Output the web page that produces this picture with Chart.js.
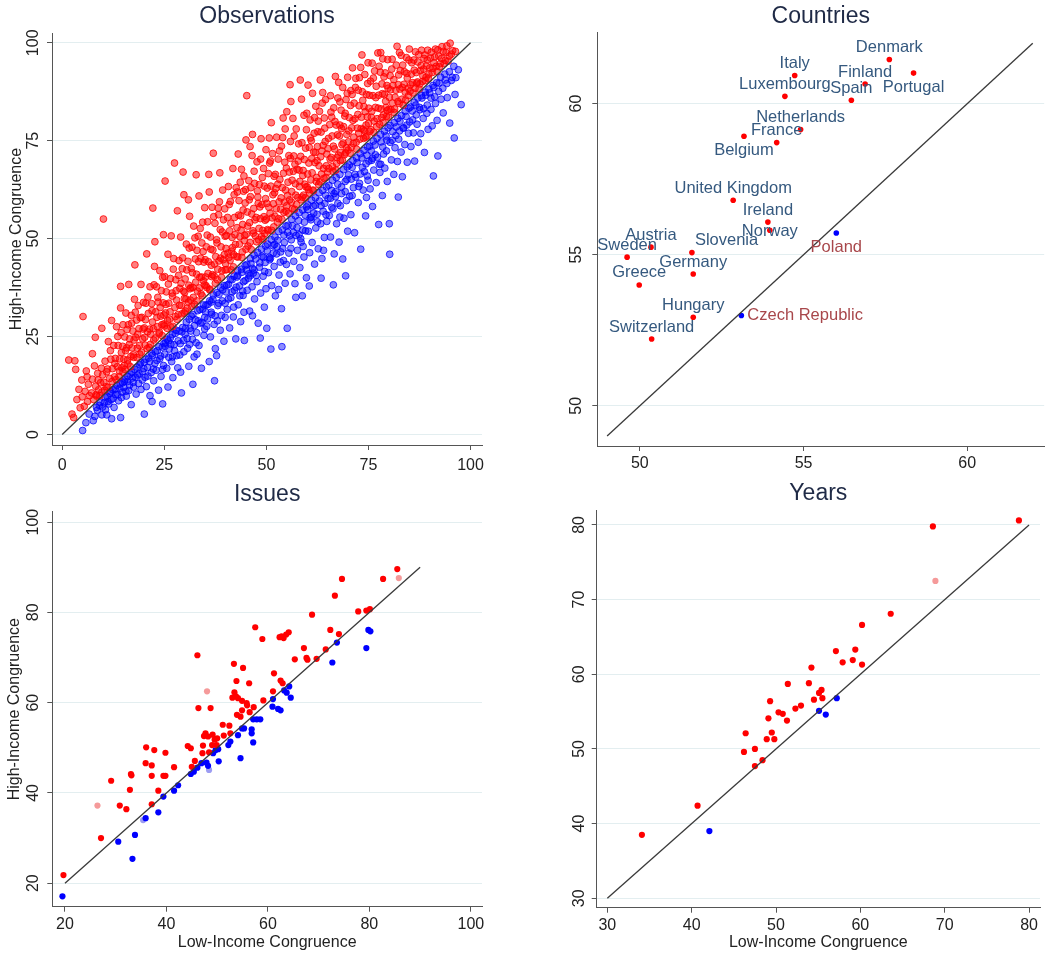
<!DOCTYPE html>
<html>
<head>
<meta charset="utf-8">
<script src="https://cdn.jsdelivr.net/npm/chart.js@4.4.0/dist/chart.umd.min.js"></script>
<style>
  html, body { margin: 0; padding: 0; background: #fff; }
  #wrap { position: relative; width: 1047px; height: 956px; overflow: hidden; }
  canvas { position: absolute; }
</style>
</head>
<body>
<div id="wrap">
  <canvas id="obs" width="520" height="470" style="left:0;top:0"></canvas>
  <canvas id="countries" width="507" height="470" style="left:540px;top:0"></canvas>
  <canvas id="issues" width="520" height="486" style="left:0;top:470px"></canvas>
  <canvas id="years" width="507" height="486" style="left:540px;top:470px"></canvas>
</div>
<script>
/* Congruence panels */

// Observations: [low-income, high-income]
const obsAbove = [
  [2.4,5.2],[2.8,4.3],[3.1,18.8],[1.6,19.0],[3.3,16.6],[3.6,8.9],[4.1,11.5],[4.4,6.8],[4.8,13.9],[5.1,30.1],[4.9,9.6],
  [5.4,7.2],[5.6,11.0],[5.9,16.2],[6.2,8.4],[6.4,12.8],[6.7,9.9],[7.4,20.6],[7.2,10.6],[7.4,14.1],[7.7,8.9],[7.9,17.5],
  [8.2,12.3],[8.4,9.8],[8.7,15.6],[8.9,11.4],[9.7,27.1],[9.4,13.2],[9.7,10.8],[10.1,55.0],[9.6,16.9],[8.1,24.8],[6.1,14.7],
  [10.2,13.3],[10.5,18.7],[10.8,12.2],[11.1,16.7],[11.3,23.7],[11.6,14.3],[11.9,19.2],[12.1,29.1],[12.3,16.8],[12.6,22.7],[12.8,14.7],
  [13.0,19.4],[13.3,27.5],[13.5,17.3],[13.7,22.7],[13.9,14.7],[14.1,19.3],[14.3,32.3],[14.4,26.0],[14.6,17.0],[14.8,22.5],[14.9,28.0],[14.3,37.8],
  [15.1,19.2],[15.3,24.9],[15.4,16.6],[15.6,31.0],[15.8,22.1],[16.0,19.0],[16.2,28.0],[16.3,38.3],[16.5,24.4],[16.7,17.3],[16.9,30.4],
  [17.1,22.1],[17.3,26.4],[17.5,19.7],[17.8,43.3],[17.7,34.5],[18.0,24.8],[18.2,29.2],[18.4,22.0],[18.6,32.9],[18.8,27.0],[19.0,20.5],
  [19.3,38.3],[19.5,29.9],[19.7,24.4],
  [20.1,27.2],[20.3,22.8],[20.5,33.5],[20.7,46.1],[20.9,26.2],[21.1,30.9],[21.3,22.2],[21.5,37.7],[21.7,25.6],[21.9,33.4],[22.1,28.7],
  [22.2,57.8],[22.4,24.1],[22.6,42.9],[22.7,49.2],[22.9,31.3],[23.1,37.7],[23.3,27.5],[23.5,33.8],[23.7,25.7],[23.9,41.8],[24.1,30.2],
  [24.3,36.7],[24.5,25.2],[24.8,51.0],[24.7,33.6],[24.9,28.2],
  [25.1,40.3],[25.2,64.7],[25.3,31.0],[25.5,36.4],[25.7,27.1],[25.9,46.0],[26.1,33.5],[26.3,29.4],[26.5,39.8],[26.7,50.7],[26.9,36.1],
  [27.1,27.6],[27.3,44.9],[27.5,69.3],[27.6,32.4],[27.8,39.5],[28.0,34.3],[28.2,57.1],[28.4,30.6],[28.6,44.4],[28.8,37.3],[29.0,50.4],
  [29.2,32.9],[29.4,42.3],[29.6,67.0],[29.7,36.6],[29.8,61.2],[29.9,31.0],
  [30.1,39.7],[30.3,34.6],[30.4,48.6],[30.6,32.2],[30.8,44.2],[31.0,38.1],[31.2,55.7],[31.4,34.3],[31.6,42.4],[31.8,47.8],[32.0,37.5],
  [32.2,53.2],[32.4,33.2],[32.6,44.8],[32.8,66.3],[32.9,40.9],[33.1,36.6],[33.3,50.6],[33.5,60.9],[33.7,40.1],[33.9,45.0],[34.0,35.9],
  [34.2,48.9],[34.4,54.2],[34.6,39.2],[34.7,44.0],[34.9,57.9],[33.0,47.0],[31.5,37.5],[30.9,59.9],
  [35.1,40.2],[35.3,47.9],[35.4,37.5],[35.6,54.3],[35.8,44.1],[36.0,61.9],[36.2,37.1],[36.3,50.4],[36.5,43.2],[36.7,58.0],[36.9,47.1],
  [37.0,71.8],[37.2,40.5],[37.4,53.9],[37.6,45.4],[37.8,49.7],[38.0,39.5],[38.2,57.8],[38.4,44.3],[38.6,66.8],[38.7,52.3],[38.9,47.9],
  [39.1,41.8],[39.3,62.4],[39.5,54.8],[39.7,45.9],[39.9,50.6],[36.8,40.8],[38.3,56.1],[35.9,66.4],
  [40.1,47.5],[40.3,42.1],[40.5,55.4],[40.7,63.3],[40.8,45.2],[41.0,52.0],[41.2,59.5],[41.4,42.0],[41.6,50.3],[41.8,67.9],[42.0,45.9],
  [42.2,55.4],[42.4,48.5],[42.6,63.0],[42.8,52.8],[43.1,71.6],[43.0,45.3],[43.3,59.7],[43.5,50.5],[43.7,55.8],[43.9,67.7],[44.0,45.2],
  [44.2,53.6],[44.4,62.1],[44.6,49.5],[44.8,59.1],[45.0,75.2],[42.9,61.9],[41.5,46.8],[44.5,66.0],
  [45.2,86.5],[45.1,51.1],[45.3,56.8],[45.5,48.1],[45.7,64.8],[45.9,54.1],[46.1,60.7],[46.3,47.2],[46.6,76.6],[46.5,71.2],[46.7,52.0],
  [46.9,57.7],[47.1,64.1],[47.3,50.7],[47.5,55.4],[47.7,69.6],[47.9,60.6],[48.1,49.7],[48.3,63.8],[48.5,55.1],[48.7,75.5],[48.9,58.7],
  [49.1,52.1],[49.3,67.9],[49.5,63.4],[49.7,54.7],[49.9,72.7],[46.0,73.5],[48.0,59.0],[49.2,49.9],
  [50.1,59.0],[50.3,52.3],[50.5,66.6],[50.7,75.7],[50.9,56.5],[51.1,63.4],[51.2,79.6],[51.3,52.1],[51.5,71.7],[51.7,58.9],[51.9,65.9],
  [52.1,55.7],[52.3,62.8],[52.5,75.9],[52.7,54.2],[52.9,70.3],[53.1,59.4],[53.3,65.1],[53.5,57.5],[53.7,73.6],[53.9,63.0],[54.1,80.8],
  [54.3,56.7],[54.5,69.5],[54.7,62.4],[54.9,68.0],[55.0,82.4],[50.8,69.3],[52.0,61.7],[54.0,75.8],
  [55.2,61.0],[55.4,56.5],[55.6,67.0],[55.8,89.3],[55.9,74.8],[56.1,59.3],[56.3,64.9],[56.5,80.7],[56.7,71.1],[56.9,57.5],[57.1,64.0],
  [57.3,78.0],[57.5,67.7],[57.7,60.5],[57.9,74.2],[58.1,63.3],[58.3,90.5],[58.4,71.0],[58.6,85.6],[58.8,60.6],[59.0,67.4],[59.2,81.5],
  [59.4,63.9],[59.6,73.1],[59.8,77.8],[55.5,71.2],[56.0,85.0],[57.0,69.0],[58.0,67.5],[59.5,60.4],
  [60.1,66.5],[60.3,62.5],[60.5,73.3],[60.7,80.3],[60.9,65.0],[61.1,70.4],[61.3,87.1],[61.5,62.2],[61.7,76.9],[61.9,69.4],[62.1,83.8],
  [62.3,65.6],[62.5,73.5],[62.7,80.0],[62.9,68.6],[63.2,90.5],[63.1,64.5],[63.4,77.2],[63.6,72.4],[63.8,87.3],[64.0,67.9],[64.2,80.8],
  [64.4,74.8],[64.6,65.6],[64.8,71.6],[60.2,89.2],[61.0,75.0],[62.0,72.0],[63.0,82.5],[64.5,85.5],
  [65.1,73.0],[65.3,67.9],[65.5,79.1],[65.7,86.5],[65.9,70.7],[66.1,76.2],[66.3,67.2],[66.5,83.4],[66.7,72.9],[66.9,91.4],[67.1,79.0],
  [67.3,70.7],[67.5,85.9],[67.7,89.9],[67.9,76.2],[68.1,69.9],[68.3,82.8],[68.5,74.0],[68.7,88.6],[68.9,78.6],[69.1,71.4],[69.3,82.0],
  [69.5,85.5],[69.7,76.6],[69.9,91.2],[66.0,81.0],[67.0,67.5],[68.0,79.0],
  [70.1,74.7],[70.3,80.9],[70.5,71.8],[70.7,87.8],[70.9,78.3],[71.1,93.6],[71.3,74.3],[71.5,84.6],[71.7,80.6],[71.9,90.9],[72.1,72.8],
  [72.3,78.2],[72.5,87.9],[72.7,83.9],[72.9,75.4],[73.1,93.7],[73.4,96.9],[73.3,81.0],[73.5,87.5],[73.7,77.9],[73.9,83.7],[74.1,91.9],
  [74.3,75.9],[74.5,86.8],[74.7,81.1],[74.9,94.9],[71.0,86.8],[74.0,77.5],
  [75.1,83.3],[75.3,77.4],[75.5,90.2],[75.7,81.0],[75.9,94.8],[76.1,86.5],[76.3,77.1],[76.5,92.8],[76.7,83.5],[76.9,88.9],[77.1,80.6],
  [77.3,97.4],[77.5,86.6],[77.7,79.2],[77.9,92.5],[78.1,83.1],[78.3,89.5],[78.5,95.9],[78.7,81.6],[78.9,86.8],[79.1,92.3],[79.3,83.5],
  [79.5,89.1],[79.7,95.7],[79.9,81.0],[78.0,97.5],
  [80.1,86.1],[80.3,91.6],[80.5,82.9],[80.8,95.8],[81.0,89.1],[81.3,82.2],[81.5,86.1],[81.8,94.3],[82.0,99.1],[82.3,89.3],[82.5,84.5],
  [82.8,92.9],[83.0,96.8],[83.3,88.6],[83.5,84.1],[83.8,92.6],[84.0,87.4],[84.3,96.2],[84.5,91.0],[84.8,86.5],[85.0,98.4],[82.6,97.5],
  [85.3,89.3],[85.6,94.9],[85.9,87.2],[86.2,93.0],[86.5,97.7],[86.8,89.7],[87.1,95.1],[87.4,88.2],[87.7,92.9],[88.0,98.1],[88.3,91.6],
  [88.6,96.0],[88.9,90.4],[89.2,94.1],[89.5,98.1],[89.8,92.0],
  [90.2,96.1],[90.6,92.4],[91.0,94.9],[91.4,98.4],[91.8,92.7],[92.2,96.6],[92.6,94.7],[93.0,99.0],[93.5,94.7],[94.0,97.5],[94.5,95.3],
  [95.0,99.9],[95.6,98.0],[96.3,97.8]
];

// the thick strip of observations just above the diagonal
const obsAboveDense = [
  [8.3,10.1],[8.8,13.9],[9.2,9.9],[9.9,15.2],[10.4,11.3],[10.9,16.0],[11.2,12.0],[11.8,21.4],[12.2,13.5],[12.9,18.1],[13.2,14.0],
  [13.6,25.0],[14.0,16.2],[14.5,20.9],[14.9,15.9],
  [15.2,17.6],[15.5,21.4],[15.9,26.8],[16.1,18.0],[16.4,22.9],[16.8,19.9],[17.0,28.4],[17.4,20.3],[17.6,24.1],[17.9,31.2],[18.3,19.6],
  [18.5,25.6],[18.9,22.7],[19.1,29.8],[19.4,21.0],[19.8,26.9],[19.9,33.7],
  [20.2,24.8],[20.4,29.3],[20.8,21.9],[21.0,35.1],[21.4,26.9],[21.6,23.0],[22.0,31.6],[22.3,27.0],[22.5,38.2],[22.8,24.6],[23.2,29.9],
  [23.4,35.0],[23.8,26.1],[24.0,32.4],[24.4,28.0],[24.6,40.1],[24.9,30.5],
  [25.0,27.7],[25.4,33.2],[25.8,29.1],[26.0,38.4],[26.4,31.3],[26.6,27.4],[27.0,35.3],[27.2,42.2],[27.7,30.1],[27.9,36.7],[28.1,29.4],
  [28.5,40.6],[28.7,33.0],[29.1,38.6],[29.3,30.8],[29.5,45.1],[29.9,34.7],
  [30.0,36.3],[30.2,31.5],[30.5,42.0],[30.9,33.8],[31.1,47.6],[31.3,37.2],[31.7,32.7],[31.9,41.3],[32.1,35.0],[32.5,50.2],[32.7,38.9],
  [33.0,34.1],[33.4,44.1],[33.6,37.4],[33.8,52.6],[34.1,40.2],[34.3,35.4],[34.5,46.7],[34.8,38.2],
  [35.0,44.6],[35.2,38.0],[35.5,50.9],[35.7,41.1],[36.1,36.9],[36.4,47.3],[36.6,40.3],[37.1,55.6],[37.3,43.5],[37.5,38.6],[37.9,48.9],
  [38.1,42.2],[38.5,59.4],[38.8,45.0],[39.0,40.1],[39.2,51.7],[39.4,44.6],[39.8,57.6],[39.9,42.0],
  [40.0,43.6],[40.2,50.8],[40.6,46.3],[40.9,58.7],[41.1,44.4],[41.3,53.9],[41.7,47.7],[41.9,42.8],[42.1,61.2],[42.3,51.0],[42.7,45.4],
  [43.2,56.0],[43.4,48.6],[43.6,64.4],[43.8,52.2],[44.1,46.6],[44.3,57.3],[44.7,50.8],[44.9,62.5],
  [45.0,47.3],[45.4,53.2],[45.8,59.9],[46.0,49.0],[46.4,56.3],[46.8,51.4],[47.0,67.2],[47.2,54.8],[47.6,49.2],[47.8,62.2],[48.2,52.6],
  [48.4,58.1],[48.8,50.5],[49.0,65.6],[49.4,55.6],[49.6,51.3],[49.8,60.2],[46.2,63.0],[48.6,70.3],
  [50.0,55.0],[50.2,62.9],[50.4,52.0],[50.6,58.0],[51.0,69.8],[51.4,55.3],[51.6,61.2],[51.8,53.0],[52.2,66.4],[52.4,57.6],[52.8,63.9],
  [53.0,55.1],[53.2,72.4],[53.6,60.4],[53.8,54.9],[54.2,66.7],[54.4,59.3],[54.6,78.0],[54.8,57.0],
  [55.0,58.4],[55.3,64.4],[55.7,59.9],[55.9,70.5],[56.2,62.0],[56.4,57.6],[56.6,67.2],[56.8,76.2],[57.2,61.1],[57.4,58.7],[57.8,69.8],
  [58.2,64.6],[58.5,59.9],[58.7,74.5],[58.9,66.1],[59.1,61.1],[59.3,70.2],[59.7,63.2],[59.9,82.0],
  [60.0,63.2],[60.4,69.3],[60.6,61.6],[60.8,75.7],[61.2,66.8],[61.4,62.4],[61.6,72.1],[61.8,80.9],[62.2,64.6],[62.4,69.9],[62.6,77.3],
  [62.8,63.8],[63.3,70.9],[63.5,66.5],[63.7,84.6],[63.9,73.8],[64.1,65.4],[64.3,78.2],[64.7,68.6],
  [65.0,67.0],[65.2,75.6],[65.6,70.3],[65.8,82.3],[66.2,68.4],[66.4,73.6],[66.8,79.9],[67.2,69.2],[67.4,76.5],[67.6,71.3],[68.0,84.9],
  [68.2,72.0],[68.4,78.1],[68.6,70.1],[68.8,74.4],[69.2,81.3],[69.4,71.9],[69.8,87.1],[69.6,73.2],
  [70.0,72.6],[70.2,77.5],[70.6,84.0],[70.8,73.3],[71.2,80.2],[71.4,75.9],[71.8,88.6],[72.0,74.6],[72.4,81.7],[72.6,76.9],[72.8,91.1],
  [73.2,78.1],[73.6,85.3],[73.8,75.6],[74.2,82.4],[74.4,79.0],[74.8,89.6],[74.6,76.2],
  [75.0,79.4],[75.2,86.6],[75.6,77.8],[75.8,82.5],[76.2,91.0],[76.4,80.0],[76.8,86.0],[77.0,78.6],[77.4,83.3],[77.6,94.0],[78.2,80.9],
  [78.4,87.0],[78.6,79.6],[78.8,91.3],[79.2,85.1],[79.4,81.2],[79.8,88.4],[79.6,82.7],
  [80.0,83.0],[80.4,88.0],[80.7,93.3],[80.9,84.6],[81.2,90.6],[81.4,83.1],[81.7,87.9],[82.2,85.0],[82.4,91.8],[82.7,88.2],[83.2,85.6],
  [83.4,94.3],[83.7,89.4],[84.1,85.4],[84.4,92.2],[84.7,88.4],[84.9,95.6],
  [85.2,87.6],[85.5,92.0],[85.8,89.8],[86.1,95.6],[86.4,88.4],[86.7,92.4],[87.0,90.0],[87.3,97.0],[87.6,89.5],[87.9,94.2],[88.2,90.1],
  [88.5,93.3],[88.8,96.9],[89.1,91.2],[89.4,95.6],[89.7,90.8],[90.0,93.6],[90.4,97.6],[90.8,93.5],[91.2,96.4],[91.6,94.0],[92.0,98.2],
  [92.4,93.9],[92.9,96.0],[93.3,97.8],[93.8,95.5],[94.2,99.2],[94.8,96.6],[95.3,97.1]
];

const obsBelow = [
  [5.0,1.0],[5.8,3.0],[7.6,3.5],[6.6,5.2],[8.4,6.9],[9.1,7.4],[9.7,5.0],[8.0,4.6],[10.9,5.0],[12.1,4.0],[14.3,4.3],[20.1,5.2],[24.6,7.8],
  [10.3,8.1],[10.6,6.3],[11.0,9.7],[11.4,7.8],[11.7,10.5],[12.0,8.9],[12.4,11.4],[12.7,6.9],[13.1,10.2],[13.4,12.5],[13.8,8.6],
  [14.1,11.8],[14.5,9.4],[14.8,13.2],
  [15.1,12.0],[15.4,14.1],[15.7,9.8],[16.0,13.5],[16.3,11.2],[16.6,15.4],[16.9,7.6],[17.2,14.4],[17.5,12.1],[17.8,16.6],[18.1,10.3],
  [18.4,15.2],[18.7,13.0],[19.0,17.8],[19.3,11.5],[19.7,16.0],
  [20.1,18.4],[20.3,14.6],[20.6,12.2],[20.9,17.1],[21.2,19.5],[21.5,9.9],[21.8,15.8],[22.1,20.2],[22.4,13.7],[22.7,18.1],[23.0,16.4],
  [23.3,21.4],[23.6,11.3],[23.9,19.3],[24.2,14.8],[24.5,22.3],[24.8,17.6],[22.0,8.4],
  [25.1,20.5],[25.3,23.4],[25.6,16.9],[25.9,12.1],[26.2,21.8],[26.5,24.7],[26.8,18.6],[27.1,14.5],[27.4,22.9],[27.7,25.8],[28.0,20.1],
  [28.3,17.0],[28.6,26.4],[28.9,23.2],[29.2,10.6],[29.5,27.3],[29.8,21.1],[27.0,19.8],[26.0,23.9],[29.0,15.9],
  [30.1,25.6],[30.4,28.7],[30.7,22.0],[31.0,17.4],[31.3,27.1],[31.6,30.2],[31.9,24.3],[32.0,12.8],[32.3,19.8],[32.6,29.3],[32.9,26.0],
  [33.2,31.6],[33.5,22.7],[33.8,28.4],[34.1,16.9],[34.4,32.0],[34.7,25.3],[34.9,29.9],[31.2,23.0],[33.0,20.5],
  [35.1,31.3],[35.4,27.6],[35.7,33.2],[36.0,18.6],[36.3,24.9],[36.6,30.7],[36.9,34.5],[37.2,28.1],[37.3,13.7],[37.5,21.9],[37.8,20.1],
  [38.1,32.9],[38.4,35.8],[38.7,26.6],[39.0,30.4],[39.3,36.9],[39.6,23.8],[39.9,33.5],[38.0,29.0],[36.5,33.8],
  [40.1,36.4],[40.4,31.9],[40.7,38.3],[41.0,27.2],[41.3,34.9],[41.6,39.5],[41.9,30.0],[42.2,36.8],[42.5,24.4],[42.8,40.2],[43.1,33.1],
  [43.4,37.9],[43.7,28.8],[44.0,41.4],[44.3,35.5],[44.6,24.0],[44.8,39.3],[42.0,32.5],[43.0,40.6],[44.5,31.2],
  [45.1,42.0],[45.3,36.8],[45.6,39.9],[45.9,31.5],[46.2,43.6],[46.5,37.7],[46.6,30.3],[46.8,41.2],[47.1,34.6],[47.4,44.8],[47.7,39.0],
  [48.0,28.4],[48.3,42.7],[48.5,24.6],[48.6,36.1],[48.9,45.5],[49.2,40.4],[49.5,32.5],[49.7,43.9],[49.9,37.2],[47.0,42.0],[46.0,40.5],
  [50.1,27.1],[50.2,46.9],[50.5,41.3],[50.8,44.6],[51.1,21.8],[51.3,38.0],[51.6,48.2],[51.9,42.9],[52.2,35.4],[52.5,46.1],[52.8,49.6],
  [53.1,40.7],[53.4,44.0],[53.8,22.4],[53.7,32.1],[54.0,47.5],[54.3,50.9],[54.6,38.6],[54.9,43.4],[51.0,45.0],[52.0,48.5],[53.0,37.0],
  [55.1,27.1],[55.2,51.6],[55.5,46.3],[55.8,41.0],[56.1,49.7],[56.4,53.3],[56.7,44.2],[57.0,38.5],[57.2,35.0],[57.3,50.8],[57.6,47.0],
  [57.9,54.6],[58.2,42.6],[58.5,49.1],[58.8,35.4],[58.9,52.2],[59.2,45.3],[59.5,56.0],[59.8,40.0],[56.0,47.5],[58.0,51.0],[59.0,48.0],
  [60.1,57.4],[60.3,51.9],[60.5,37.9],[60.6,46.4],[60.9,54.8],[61.2,49.0],[61.5,58.3],[61.8,43.5],[62.1,52.7],[62.4,56.2],[62.7,47.4],
  [63.0,59.6],[63.4,39.9],[63.3,53.8],[63.6,44.9],[63.9,57.0],[64.2,50.3],[64.5,61.1],[64.8,54.4],[61.0,55.5],[62.0,58.5],[64.0,47.0],
  [65.1,60.2],[65.4,55.9],[65.7,50.4],[66.0,62.3],[66.4,38.2],[66.3,57.6],[66.6,46.1],[66.9,60.7],[67.2,53.8],[67.5,63.9],[67.8,49.1],
  [68.1,58.4],[68.4,61.5],[68.7,44.8],[69.0,55.2],[69.4,40.5],[69.3,64.6],[69.6,59.7],[69.9,51.9],[66.0,58.0],[67.0,62.0],[68.0,55.5],
  [70.1,66.3],[70.4,60.8],[70.7,56.1],[71.0,68.2],[71.3,63.0],[71.6,51.5],[71.9,65.7],[72.2,69.4],[72.5,59.2],[72.8,64.1],[73.1,47.3],
  [73.4,70.6],[73.7,62.4],[74.0,67.1],[74.3,55.8],[74.6,71.3],[74.9,64.9],[71.0,61.0],[73.0,66.5],[74.5,60.5],
  [75.1,69.8],[75.4,62.7],[75.7,72.4],[76.0,58.2],[76.3,67.5],[76.6,73.9],[76.9,64.3],[77.2,70.8],[77.5,53.6],[77.8,66.9],[78.1,74.7],
  [78.4,61.0],[78.7,71.6],[79.0,68.0],[79.3,76.2],[79.6,64.6],[80.1,53.8],[80.2,46.0],[76.0,70.5],[78.0,69.0],
  [80.3,74.6],[80.6,70.1],[80.9,77.3],[81.2,66.4],[81.5,73.2],[81.8,78.5],[82.1,69.7],[82.3,60.6],[82.4,75.4],[82.7,80.0],[83.0,72.1],
  [83.3,65.8],[83.6,78.3],[83.9,74.0],[84.2,81.2],[84.5,69.5],[84.8,76.9],
  [85.1,79.8],[85.4,73.5],[85.7,82.6],[86.0,77.0],[86.3,69.8],[86.6,84.1],[86.9,79.2],[87.2,74.6],[87.5,83.5],[87.8,76.8],[88.1,85.9],
  [88.4,80.7],[88.7,72.0],[89.0,86.6],[89.3,82.0],[89.6,77.9],
  [90.0,87.2],[90.3,83.0],[90.9,66.0],[90.6,78.8],[91.0,88.6],[91.4,84.5],[92.0,71.1],[91.8,80.2],[92.3,89.7],[92.8,85.6],[93.3,82.1],
  [93.8,90.5],[94.3,86.0],[94.9,79.5],[95.5,91.2],[96.0,75.7],[96.2,86.8],[97.0,93.1],[97.7,84.2]
];

// the thick strip just below the diagonal
const obsBelowDense = [
  [8.6,6.2],[9.3,8.1],[9.9,7.0],[10.5,9.5],[11.2,8.4],[11.9,10.9],[12.5,9.2],[13.0,11.6],[13.6,10.1],[14.2,12.9],[14.7,10.8],
  [15.2,13.6],[15.6,11.0],[16.1,14.8],[16.5,12.6],[17.0,15.9],[17.4,13.3],[17.9,14.6],[18.3,17.2],[18.8,15.5],[19.2,18.3],[19.6,13.9],
  [20.0,16.8],[20.5,19.2],[21.0,14.9],[21.4,18.6],[21.9,20.6],[22.3,16.7],[22.8,21.1],[23.2,18.9],[23.7,22.4],[24.1,20.0],[24.6,16.6],
  [24.9,23.2],
  [25.2,22.5],[25.7,24.3],[26.1,19.7],[26.6,23.0],[27.0,25.5],[27.5,21.4],[27.9,26.6],[28.4,23.9],[28.8,20.3],[29.3,26.2],[29.7,24.0],
  [30.2,27.1],[30.6,24.5],[31.1,29.4],[31.5,26.4],[32.0,30.6],[32.4,27.8],[32.8,23.4],[33.3,29.0],[33.7,31.9],[34.2,28.6],[34.6,33.1],
  [34.9,26.9],
  [35.2,33.0],[35.6,29.5],[36.1,34.1],[36.5,31.2],[37.0,35.6],[37.4,30.3],[37.9,36.2],[38.3,33.5],[38.8,37.5],[39.2,34.1],[39.7,38.0],
  [39.9,29.9],
  [40.3,38.1],[40.7,34.6],[41.2,39.6],[41.6,36.4],[42.1,40.4],[42.6,37.6],[43.0,41.8],[43.5,35.4],[43.9,42.2],[44.4,39.0],[44.8,43.1],
  [44.2,36.6],
  [45.2,43.4],[45.7,41.0],[46.1,44.9],[46.6,42.4],[47.0,45.8],[47.5,40.6],[47.9,46.4],[48.4,43.8],[48.8,47.3],[49.3,45.2],[49.8,48.1],
  [49.6,41.6],
  [50.3,48.6],[50.7,45.2],[51.2,49.7],[51.7,46.3],[52.1,50.4],[52.6,47.9],[53.0,51.8],[53.5,46.6],[53.9,52.2],[54.4,49.0],[54.8,53.2],
  [54.2,44.4],
  [55.3,53.4],[55.7,50.7],[56.2,54.9],[56.6,51.6],[57.1,55.8],[57.5,52.8],[58.0,56.6],[58.4,50.0],[58.9,57.3],[59.3,54.2],[59.8,58.1],
  [59.6,52.0],
  [60.2,58.6],[60.7,55.3],[61.1,59.8],[61.6,56.5],[62.0,60.4],[62.5,54.3],[62.9,61.7],[63.4,58.4],[63.8,62.3],[64.3,59.0],[64.7,63.2],
  [64.6,56.1],
  [65.3,63.6],[65.7,60.3],[66.2,64.9],[66.6,61.5],[67.1,65.6],[67.5,59.0],[68.0,66.4],[68.4,63.2],[68.9,67.6],[69.3,62.0],[69.8,68.3],
  [69.7,65.1],
  [70.3,68.8],[70.8,65.2],[71.2,69.9],[71.7,66.4],[72.1,70.6],[72.6,63.3],[73.0,71.7],[73.5,68.2],[73.9,72.5],[74.4,69.1],[74.8,73.4],
  [74.7,66.0],
  [75.3,73.6],[75.8,70.0],[76.2,74.9],[76.7,71.4],[77.1,75.6],[77.6,69.0],[78.0,76.6],[78.5,73.4],[78.9,77.4],[79.4,72.4],[79.8,78.3],
  [79.5,75.1],
  [80.3,78.9],[80.8,75.1],[81.3,79.6],[81.7,76.3],[82.2,80.7],[82.6,77.5],[83.1,81.4],[83.5,78.2],[84.0,82.5],[84.4,79.0],[84.9,83.3],
  [85.3,83.6],[85.8,80.3],[86.2,84.8],[86.7,81.6],[87.1,85.9],[87.6,82.9],[88.0,86.5],[88.5,83.2],[88.9,87.4],[89.4,84.1],[89.8,88.2],
  [90.3,85.9],[90.8,89.1],[91.2,86.2],[91.7,89.8],[92.2,87.6],[92.7,91.2],[93.2,88.4],[93.7,92.0],[94.2,89.6],[94.8,92.6],[95.3,90.4],
  [95.9,94.0],[96.4,91.1]
];

// Countries
const countryNames = ['Denmark', 'Portugal', 'Italy', 'Finland', 'Luxembourg', 'Spain', 'Netherlands', 'France', 'Belgium',
  'United Kingdom', 'Ireland', 'Norway', 'Poland', 'Austria', 'Slovenia', 'Sweden', 'Germany', 'Greece', 'Hungary',
  'Czech Republic', 'Switzerland'];
const countryLow = [57.62, 58.36, 54.73, 56.88, 54.43, 56.46, 54.91, 54.18, 53.18, 52.85, 53.91, 53.97, 56.0, 50.34, 51.59,
  49.61, 51.63, 49.98, 51.63, 53.1, 50.36];
const countryHigh = [61.46, 61.01, 60.93, 60.65, 60.24, 60.11, 59.14, 58.71, 58.92, 56.80, 56.08, 55.81, 55.72, 55.25, 55.07,
  54.92, 54.36, 54.0, 52.93, 52.99, 52.21];

// Issues
const issuesAbove = [
  [19.7,21.8],[27.1,30.0],[29.1,42.7],[30.8,37.2],[32.1,36.4],[32.8,40.7],[33.0,44.2],[33.1,43.9],[36.0,50.1],[35.9,46.6],
  [37.1,46.1],[37.1,43.8],[37.1,37.5],[37.6,49.5],[38.4,40.5],[39.4,43.8],[39.8,48.9],[39.8,43.8],[41.5,45.7],[44.2,50.4],
  [44.8,49.9],[45.0,45.8],[45.6,47.1],[46.1,70.5],[46.3,58.8],[47.1,48.8],[47.2,50.5],[47.4,52.6],[47.7,53.2],[48.2,52.5],
  [48.4,49.0],[48.7,58.8],[49.0,50.6],[49.1,52.9],[49.5,51.8],[50.0,52.1],[49.9,50.6],[51.1,55.1],[51.3,52.7],[52.4,54.9],
  [52.6,53.2],[53.0,61.1],[53.3,68.6],[53.4,62.3],[53.7,61.4],[53.8,64.8],[53.9,57.3],[54.1,61.0],[54.6,56.9],[54.9,60.4],
  [54.9,58.3],[55.1,67.7],[55.8,59.9],[55.9,59.4],[56.3,64.3],[56.4,57.9],[57.2,59.0],[57.5,76.7],[58.9,74.1],[59.1,60.5],
  [61.2,66.5],[61.0,62.5],[62.3,74.5],[62.5,64.9],[62.7,74.7],[63.1,74.3],[63.6,75.1],[64.1,75.6],[62.9,64.3],[65.3,69.6],
  [67.1,72.1],[67.6,69.9],[67.8,69.5],[68.7,79.5],[69.6,69.7],[71.4,71.8],[72.3,76.1],[73.2,83.7],[74.0,75.2],[74.6,87.4],
  [77.8,80.2],[79.4,80.4],[80.1,80.7],[82.7,87.4],[85.5,89.6]
];
const issuesAbovePale = [[26.4,37.2],[48.0,62.5],[85.8,87.6]];
const issuesBelow = [
  [19.5,17.1],[30.5,29.2],[33.8,30.7],[33.3,25.4],[35.9,34.4],[38.4,35.7],[39.4,39.2],[41.5,40.5],[42.3,41.7],[44.8,44.2],
  [45.4,44.7],[46.1,45.6],[46.9,46.6],[47.9,46.7],[48.2,46.0],[49.2,48.8],[49.7,49.5],[50.2,49.7],[50.3,47.0],[52.2,50.6],
  [52.6,51.4],[54.1,52.8],[54.6,47.7],[54.9,54.3],[55.3,54.3],[56.8,54.1],[56.8,53.2],[57.1,51.2],[57.1,56.3],[57.8,56.3],
  [58.5,56.3],[60.9,59.1],[61.0,60.8],[62.0,58.6],[62.5,58.3],[63.2,62.7],[63.7,62.2],[64.2,63.6],[64.5,61.1],[72.7,68.9],
  [73.6,73.3],[79.4,72.1],[79.8,76.1],[80.2,75.8]
];
const issuesBelowPale = [[35.4,34.0],[48.4,45.1]];

// Years
const yearsAbove = [
  [34.1,38.5],[40.7,42.4],[46.2,49.6],[46.4,52.1],[47.5,50.0],[47.5,47.7],[48.4,48.5],[48.9,51.3],[49.1,54.1],[49.3,56.4],
  [49.5,52.2],[49.8,51.3],[50.3,54.9],[50.8,54.7],[51.3,53.8],[51.4,58.7],[52.3,55.4],[52.96,55.8],[53.9,58.8],[54.2,60.9],
  [54.5,56.6],[55.1,57.5],[55.4,57.9],[55.5,56.8],[57.1,63.1],[57.9,61.6],[59.1,61.9],[59.4,63.3],[60.2,66.6],[60.2,61.3],
  [63.6,68.1],[68.6,79.8],[78.8,80.6]
];
const yearsAbovePale = [[68.9,72.5]];
const yearsBelow = [[42.1,39.0],[55.1,55.1],[55.9,54.6],[57.2,56.8]];

// 45-degree reference lines and tick labels
const obsDiag = [0, 100];
const countryDiag = [49, 62];
const issuesDiag = [20, 90];
const yearsDiag = [30, 80];
const obsTicks = [0, 25, 50, 75, 100];
const countryTicks = [50, 55, 60];
const issuesTicks = [20, 40, 60, 80, 100];
const yearsTicks = [30, 40, 50, 60, 70, 80];

const FONT = '"Liberation Sans", Arial, Helvetica, sans-serif';
Chart.defaults.font.family = FONT;
Chart.defaults.font.size = 16;
Chart.defaults.color = '#222';

const RED = '#ff0000';
const BLUE = '#0000ff';

const pts = a => a.map(p => ({ x: p[0], y: p[1] }));

function dots(data, fill, r, border) {
  return {
    data: data,
    showLine: false,
    pointRadius: r,
    pointHoverRadius: r,
    pointBackgroundColor: fill,
    pointBorderColor: border || fill,
    pointBorderWidth: border ? 1 : 0
  };
}

function diagLine(ends) {
  return {
    data: ends.map(v => ({ x: v, y: v })),
    showLine: true,
    borderColor: '#3a3a3a',
    borderWidth: 1.3,
    pointRadius: 0,
    pointHoverRadius: 0
  };
}

function axis(o) {
  const ticks = { color: '#222', font: { size: 16 }, padding: o.pad || 0 };
  if (o.rot) {
    ticks.minRotation = 90;
    ticks.maxRotation = 90;
    ticks.crossAlign = 'center';
  }
  return {
    type: 'linear',
    min: o.min,
    max: o.max,
    afterBuildTicks: s => { s.ticks = o.ticks.map(v => ({ value: v })); },
    afterFit: s => {
      if (o.width != null) s.width = o.width;
      if (o.height != null) s.height = o.height;
    },
    grid: { drawOnChartArea: !!o.grid, color: '#e3eef0', lineWidth: 1, tickColor: '#555', tickLength: 5 },
    border: { display: true, color: '#555', width: 1 },
    ticks: ticks,
    title: o.title
      ? { display: true, text: o.title, color: '#222', font: { size: 16 }, padding: o.titlePad }
      : { display: false }
  };
}

const panelTitle = {
  id: 'panelTitle',
  afterDraw(chart, args, opts) {
    const { ctx, chartArea } = chart;
    ctx.save();
    ctx.font = '23px ' + FONT;
    ctx.fillStyle = '#1f2a46';
    ctx.textAlign = 'center';
    ctx.textBaseline = 'middle';
    ctx.fillText(opts.text, (chartArea.left + chartArea.right) / 2, opts.y);
    ctx.restore();
  }
};

// where each country name sits relative to its dot
const countrySpot = {
  'Portugal': 'below', 'Belgium': 'below', 'Poland': 'below',
  'Norway': 'on', 'Slovenia': 'upright', 'Czech Republic': 'right'
};

const countryLabels = {
  id: 'countryLabels',
  afterDatasetsDraw(chart) {
    const ctx = chart.ctx;
    const meta = chart.getDatasetMeta(1);
    ctx.save();
    ctx.font = '16.5px ' + FONT;
    ctx.textBaseline = 'middle';
    meta.data.forEach((el, i) => {
      const name = countryNames[i];
      const spot = countrySpot[name] || 'above';
      ctx.fillStyle = countryHigh[i] > countryLow[i] ? '#35597f' : '#a8474b';
      ctx.textAlign = 'center';
      let x = el.x, y = el.y;
      if (spot === 'above') y -= 12;
      else if (spot === 'below') y += 14;
      else if (spot === 'on') y += 1;
      else if (spot === 'right') { ctx.textAlign = 'left'; x += 6; }
      else if (spot === 'upright') { ctx.textAlign = 'left'; x += 3; y -= 12; }
      ctx.fillText(name, x, y);
    });
    ctx.restore();
  }
};

function panel(id, o) {
  return new Chart(document.getElementById(id), {
    type: 'scatter',
    data: { datasets: o.datasets },
    options: {
      responsive: false,
      animation: false,
      layout: { padding: o.padding },
      plugins: {
        legend: { display: false },
        tooltip: { enabled: false },
        panelTitle: { text: o.title, y: o.titleY }
      },
      scales: { x: axis(o.x), y: axis(o.y) }
    },
    plugins: [panelTitle].concat(o.extra || [])
  });
}

const obsRedFill = 'rgba(255,0,0,0.5)';
const obsRedEdge = 'rgba(255,0,0,0.8)';
const obsBlueFill = 'rgba(0,0,255,0.45)';
const obsBlueEdge = 'rgba(0,0,255,0.75)';

panel('obs', {
  title: 'Observations', titleY: 17,
  padding: { left: 0, top: 33, right: 38, bottom: 0 },
  datasets: [
    diagLine(obsDiag),
    dots(pts(obsAbove), obsRedFill, 3.4, obsRedEdge),
    dots(pts(obsAboveDense), obsRedFill, 3.4, obsRedEdge),
    dots(pts(obsBelow), obsBlueFill, 3.4, obsBlueEdge),
    dots(pts(obsBelowDense), obsBlueFill, 3.4, obsBlueEdge)
  ],
  x: { min: -2.5, max: 102.8, ticks: obsTicks, height: 25, pad: 6 },
  y: { min: -2.7, max: 102.5, ticks: obsTicks, width: 52, rot: true, grid: true, pad: 0,
       title: 'High-Income Congruence', titlePad: { top: 7, bottom: 0 } }
});

const countryColors = countryHigh.map((h, i) => h > countryLow[i] ? RED : BLUE);
panel('countries', {
  title: 'Countries', titleY: 17,
  padding: { left: 0, top: 32, right: 2, bottom: 0 },
  datasets: [
    diagLine(countryDiag),
    dots(countryLow.map((v, i) => ({ x: v, y: countryHigh[i] })), countryColors, 2.8)
  ],
  x: { min: 48.7, max: 62.35, ticks: countryTicks, height: 24, pad: 3 },
  y: { min: 48.67, max: 62.37, ticks: countryTicks, width: 57.3, rot: true, grid: true, pad: 6.7 },
  extra: [countryLabels]
});

panel('issues', {
  title: 'Issues', titleY: 25,
  padding: { left: 0, top: 41.7, right: 38, bottom: 0 },
  datasets: [
    diagLine(issuesDiag),
    dots(pts(issuesAbove), RED, 3.1),
    dots(pts(issuesBelow), BLUE, 3.1),
    dots(pts(issuesAbovePale), '#f59a9a', 3.1),
    dots(pts(issuesBelowPale), '#9c9cf2', 3.1)
  ],
  x: { min: 17.5, max: 102.2, ticks: issuesTicks, height: 49.3, pad: 3,
       title: 'Low-Income Congruence', titlePad: { top: 0, bottom: 3.7 } },
  y: { min: 14.8, max: 102.3, ticks: issuesTicks, width: 52.3, rot: true, grid: true, pad: 0.6,
       title: 'High-Income Congruence', titlePad: { top: 5.4, bottom: 0 } }
});

panel('years', {
  title: 'Years', titleY: 24,
  padding: { left: 0, top: 40.7, right: 7, bottom: 0 },
  datasets: [
    diagLine(yearsDiag),
    dots(pts(yearsAbove), RED, 3.1),
    dots(pts(yearsBelow), BLUE, 3.1),
    dots(pts(yearsAbovePale), '#f59a9a', 3.1)
  ],
  x: { min: 28.74, max: 81.3, ticks: yearsTicks, height: 48.3, pad: 3,
       title: 'Low-Income Congruence', titlePad: { top: 0, bottom: 3.4 } },
  y: { min: 28.74, max: 81.9, ticks: yearsTicks, width: 56.7, rot: true, grid: true, pad: 2.8 }
});
</script>
</body>
</html>
